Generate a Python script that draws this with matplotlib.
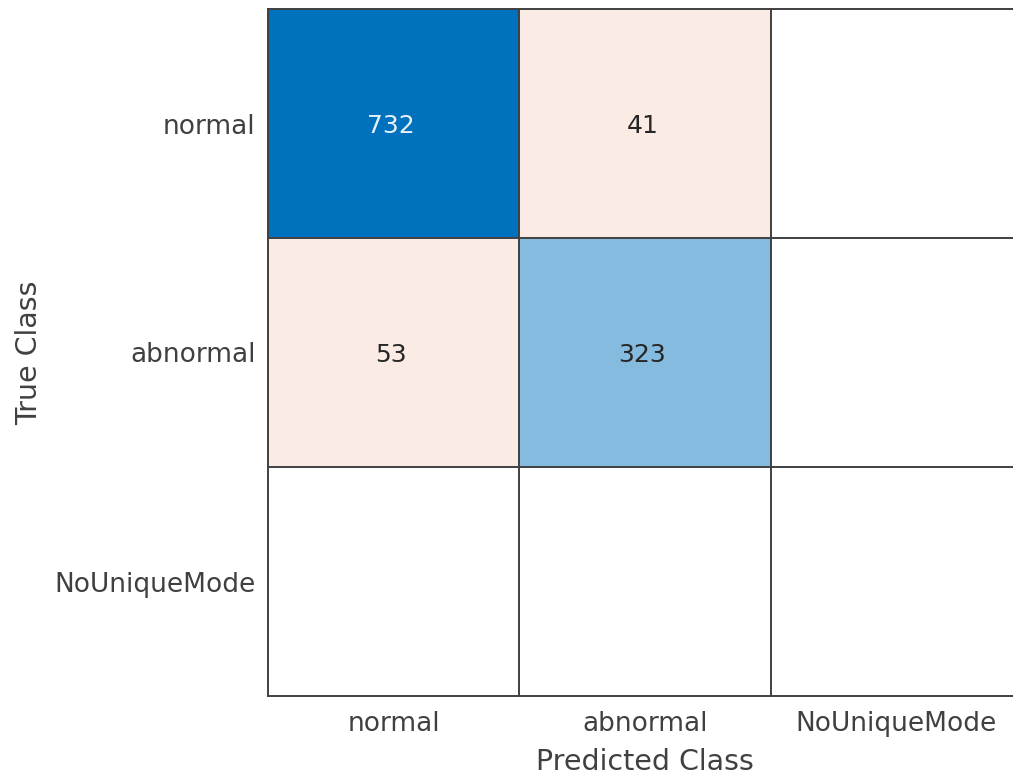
import numpy as np
import matplotlib
matplotlib.use("Agg")
import matplotlib.pyplot as plt

# Confusion matrix counts (rows: true class, columns: predicted class)
classes = ["normal", "abnormal", "NoUniqueMode"]
counts = [
    [732, 41, 0],
    [53, 323, 0],
    [0, 0, 0],
]

C = np.array(counts, dtype=float)
n = len(classes)

diag_rgb = np.array([0.0, 0.447, 0.741])
off_rgb = np.array([0.85, 0.325, 0.098])
white = np.ones(3)

cmax = C.max()
rgb = np.ones((n, n, 3))
text_colors = {}
for i in range(n):
    for j in range(n):
        v = C[i, j]
        if v == 0:
            continue
        if i == j:
            t = (v / cmax) ** 0.9
            rgb[i, j] = white * (1 - t) + diag_rgb * t
        else:
            t = 0.11
            rgb[i, j] = white * (1 - t) + off_rgb * t
        text_colors[(i, j)] = "#e8f0f8" if t > 0.6 else "#262626"

fig = plt.figure(figsize=(10.13, 7.76), dpi=100)
ax = fig.add_axes([268 / 1013, 1 - 696 / 776, 754 / 1013, 687 / 776])

ax.imshow(rgb, extent=(-0.5, n - 0.5, n - 0.5, -0.5), aspect="auto",
          interpolation="nearest")

for (i, j), col in text_colors.items():
    ax.text(j - 0.01, i + 0.012, f"{int(C[i, j])}", ha="center", va="center",
            fontsize=18, color=col)

grid_col = "#404040"
for k in range(1, n):
    ax.axhline(k - 0.5, color=grid_col, lw=1.4)
    ax.axvline(k - 0.5, color=grid_col, lw=1.4)
for s in ax.spines.values():
    s.set_color(grid_col)
    s.set_linewidth(1.4)

ax.set_xlim(-0.5, n - 0.5)
ax.set_ylim(n - 0.5, -0.5)
ax.set_xticks(range(n))
ax.set_yticks(range(n))
ax.set_xticklabels(classes)
ax.set_yticklabels(classes)
ax.tick_params(axis="y", length=0, labelsize=19, labelcolor="#404040", pad=9)
ax.tick_params(axis="x", length=0, labelsize=19, labelcolor="#404040", pad=11)

ax.set_xlabel("Predicted Class", fontsize=20.5, color="#404040", labelpad=7.5)
ax.set_ylabel("True Class", fontsize=20.5, color="#404040", labelpad=8)

fig.savefig("out.png", dpi=100, facecolor="white")
